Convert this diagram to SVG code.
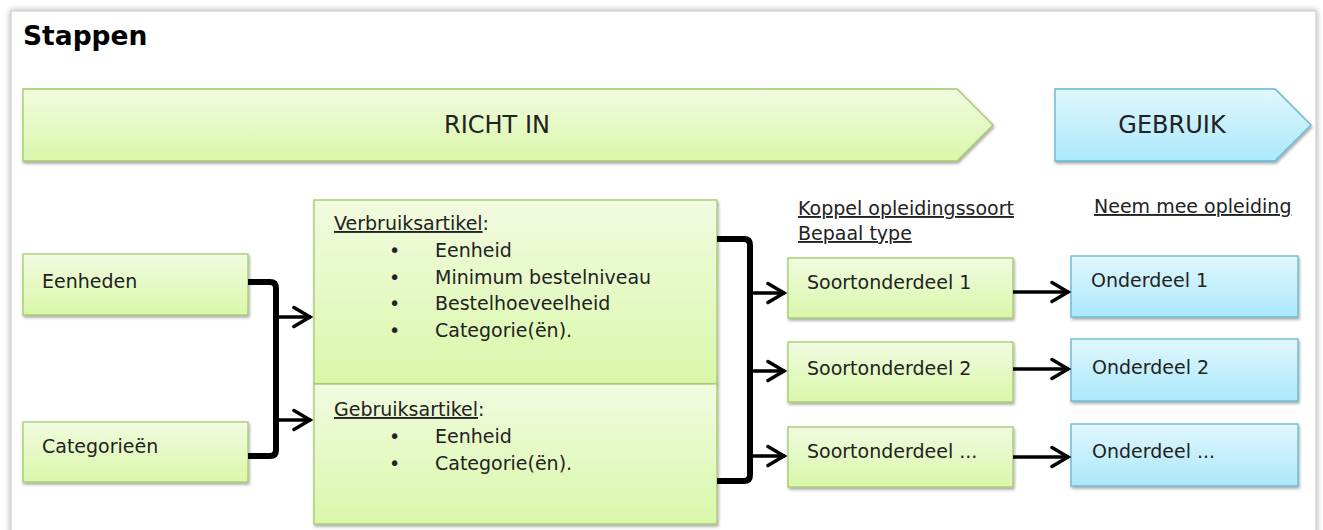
<svg xmlns="http://www.w3.org/2000/svg" width="1323" height="530" viewBox="0 0 1323 530">
<defs>
<linearGradient id="gGreen" x1="0" y1="0" x2="0" y2="1">
<stop offset="0" stop-color="#f1fbe0"/>
<stop offset="1" stop-color="#d9f7a9"/>
</linearGradient>
<linearGradient id="gBlue" x1="0" y1="0" x2="0" y2="1">
<stop offset="0" stop-color="#e1f7fd"/>
<stop offset="1" stop-color="#aae8fb"/>
</linearGradient>
<filter id="sh" x="-5%" y="-10%" width="110%" height="130%">
<feDropShadow dx="1" dy="2" stdDeviation="1.5" flood-color="#000" flood-opacity="0.35"/>
</filter>
<filter id="fsh" x="-2%" y="-5%" width="104%" height="110%">
<feDropShadow dx="0" dy="0" stdDeviation="3" flood-color="#000" flood-opacity="0.35"/>
</filter>
<marker id="ah" viewBox="0 0 22 24" refX="20" refY="12" markerWidth="22" markerHeight="24" markerUnits="userSpaceOnUse" orient="auto">
<path d="M3,2.5 L19,12 L3,21.5" fill="none" stroke="#000" stroke-width="3.5" stroke-linejoin="miter" stroke-linecap="round"/>
</marker>
</defs>
<style>
.g{fill:url(#gGreen);stroke:#a3c96b;stroke-width:1.3;filter:url(#sh)}
.b{fill:url(#gBlue);stroke:#62b7cf;stroke-width:1.3;filter:url(#sh)}
text{font-family:"DejaVu Sans","Liberation Sans",sans-serif;font-size:19px;fill:#222}
.big{font-size:24px}
.u{text-decoration:underline}
.br{fill:none;stroke:#000;stroke-width:6;stroke-linejoin:round}
.ar{fill:none;stroke:#000;stroke-width:3.5;marker-end:url(#ah)}
</style>
<rect x="0" y="0" width="1323" height="530" fill="#ffffff"/>
<rect x="11" y="11" width="1305" height="540" fill="#ffffff" stroke="#c4c4c4" stroke-width="1" filter="url(#fsh)"/>
<text x="23" y="45" style="font-size:26.5px;font-weight:bold;fill:#000">Stappen</text>

<g id="richt-in">
<path class="g" d="M23,89 H957 L993,125 L957,161 H23 Z"/>
<text class="big" x="497" y="133" text-anchor="middle">RICHT IN</text>
</g>
<g id="gebruik">
<path class="b" d="M1055,89 H1275 L1311,125 L1275,161 H1055 Z"/>
<text class="big" x="1172" y="133" text-anchor="middle">GEBRUIK</text>
</g>

<g id="eenheden">
<rect class="g" x="23" y="254" width="225" height="61"/>
<text x="42" y="288">Eenheden</text>
</g>
<g id="categorieen">
<rect class="g" x="23" y="422" width="225" height="60"/>
<text x="42" y="453">Categorieën</text>
</g>

<g id="verbruiksartikel">
<rect class="g" x="314" y="200" width="403" height="184"/>
<text x="334" y="230"><tspan class="u">Verbruiksartikel</tspan>:</text>
<text x="389" y="257">•</text><text x="435" y="257">Eenheid</text>
<text x="389" y="284">•</text><text x="435" y="284">Minimum bestelniveau</text>
<text x="389" y="310">•</text><text x="435" y="310">Bestelhoeveelheid</text>
<text x="389" y="337">•</text><text x="435" y="337">Categorie(ën).</text>
</g>
<g id="gebruiksartikel">
<rect class="g" x="314" y="384" width="403" height="140"/>
<text x="334" y="416"><tspan class="u">Gebruiksartikel</tspan>:</text>
<text x="389" y="443">•</text><text x="435" y="443">Eenheid</text>
<text x="389" y="470">•</text><text x="435" y="470">Categorie(ën).</text>
</g>

<g id="kop-koppel">
<text x="798" y="215" class="u">Koppel opleidingssoort</text>
<text x="798" y="240" class="u">Bepaal type</text>
</g>
<g id="kop-neem">
<text x="1094" y="213" class="u">Neem mee opleiding</text>
</g>

<g id="soort1">
<rect class="g" x="788" y="258" width="225" height="60"/>
<text x="807" y="289">Soortonderdeel 1</text>
</g>
<g id="soort2">
<rect class="g" x="788" y="342" width="225" height="60"/>
<text x="807" y="375">Soortonderdeel 2</text>
</g>
<g id="soort3">
<rect class="g" x="788" y="427" width="225" height="60"/>
<text x="807" y="458">Soortonderdeel ...</text>
</g>

<g id="onderdeel1">
<rect class="b" x="1071" y="256" width="227" height="61"/>
<text x="1091" y="287">Onderdeel 1</text>
</g>
<g id="onderdeel2">
<rect class="b" x="1071" y="339" width="227" height="62"/>
<text x="1092" y="374">Onderdeel 2</text>
</g>
<g id="onderdeel3">
<rect class="b" x="1071" y="424" width="227" height="62"/>
<text x="1092" y="458">Onderdeel ...</text>
</g>

<g id="connectors">
<path class="br" d="M248,282 H270 Q276,282 276,288 V450 Q276,456 270,456 H248"/>
<path class="ar" d="M276,317 H311"/>
<path class="ar" d="M276,420 H311"/>
<path class="br" d="M717,239 H744 Q750,239 750,245 V475 Q750,481 744,481 H717"/>
<path class="ar" d="M750,293 H785"/>
<path class="ar" d="M750,371 H785"/>
<path class="ar" d="M750,456 H785"/>
<path class="ar" d="M1013,292 H1069"/>
<path class="ar" d="M1013,369 H1069"/>
<path class="ar" d="M1013,457 H1069"/>
</g>
</svg>
